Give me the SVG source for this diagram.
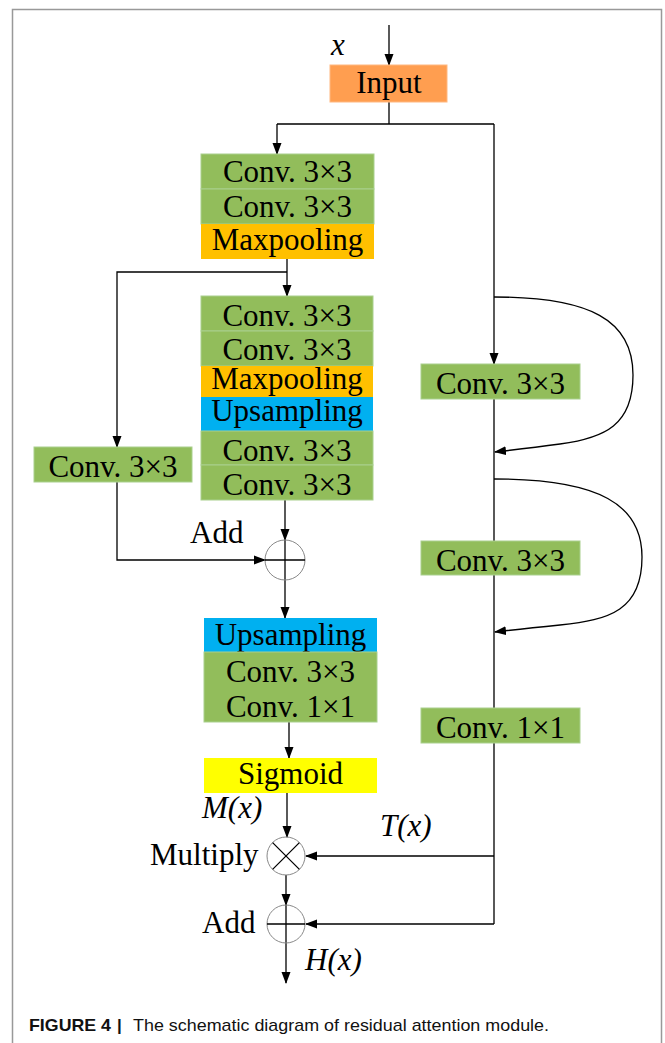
<svg xmlns="http://www.w3.org/2000/svg" width="665" height="1043" viewBox="0 0 665 1043">
<defs>
<marker id="ah" markerUnits="userSpaceOnUse" markerWidth="12" markerHeight="10" viewBox="0 0 12 10" refX="11" refY="5" orient="auto">
<path d="M0,0.5 L12,5 L0,9.5 Z" fill="#000"/>
</marker>
<style>
.t{font-family:"Liberation Serif","Times New Roman",serif;font-size:31px;fill:#000;text-anchor:middle}
.l{font-family:"Liberation Serif","Times New Roman",serif;font-size:31px;fill:#000}
.i{font-style:italic}
.g{fill:#92BD5B;stroke:#A9D08E;stroke-width:1}
.o{fill:#FFC000}
.b{fill:#00B0F0}
.y{fill:#FFFF00}
.in{fill:#FF9E50;stroke:#FFB880;stroke-width:1}
.c{fill:none;stroke:#000;stroke-width:1.3}
.a{fill:none;stroke:#000;stroke-width:1.3;marker-end:url(#ah)}
.ci{fill:none;stroke:#888;stroke-width:1}
.cap{font-family:"Liberation Sans",Arial,sans-serif;font-size:17px;fill:#111}
</style>
</defs>
<rect x="12.5" y="9.5" width="649" height="1045" fill="none" stroke="#999" stroke-width="1.5"/>

<g id="connectors">
<path class="a" d="M389,25 L389,65"/>
<path class="c" d="M389,102 L389,124 M277,124 L494,124"/>
<path class="a" d="M277,124 L277,154"/>
<path class="a" d="M494,124 L494,364"/>
<path class="a" d="M287,259 L287,296"/>
<path class="a" d="M287,272 L117,272 L117,447"/>
<path class="a" d="M117,482 L117,560 L265,560"/>
<path class="a" d="M285,500 L285,540"/>
<path class="a" d="M285,540 L285,618"/>
<path class="a" d="M289,722 L289,758"/>
<path class="a" d="M287,793 L287,837"/>
<path class="c" d="M494,399 L494,541 M494,575 L494,708 M494,743 L494,924"/>
<path class="a" d="M494,297 C590,297 633,320 633,375 C633,425 605,438 560,444 C530,448 512,450 495,452"/>
<path class="a" d="M494,479 C600,479 642,505 642,557 C642,610 610,620 560,625 C530,628 512,630 495,632"/>
<path class="a" d="M494,856 L306,856"/>
<path class="a" d="M494,924 L306,924"/>
<path class="a" d="M286,875 L286,905"/>
<path class="a" d="M286,905 L286,983"/>
</g>

<g id="input">
<rect class="in" x="330" y="65" width="117" height="37"/>
<text class="t" x="389" y="93">Input</text>
</g>
<text class="l i" x="331" y="55">x</text>

<g id="stack1">
<rect class="g" x="201" y="154" width="173" height="35"/>
<text class="t" x="287.5" y="182">Conv. 3×3</text>
<rect class="g" x="201" y="189" width="173" height="35"/>
<text class="t" x="287.5" y="217">Conv. 3×3</text>
<rect class="o" x="201" y="224" width="173" height="35"/>
<text class="t" x="287.5" y="250">Maxpooling</text>
</g>

<g id="stack2">
<rect class="g" x="201" y="296" width="172" height="35"/>
<text class="t" x="287" y="326">Conv. 3×3</text>
<rect class="g" x="201" y="331" width="172" height="35"/>
<text class="t" x="287" y="360">Conv. 3×3</text>
<rect class="o" x="201" y="366" width="172" height="31"/>
<text class="t" x="287" y="389">Maxpooling</text>
<rect class="b" x="201" y="397" width="172" height="34"/>
<text class="t" x="287" y="421">Upsampling</text>
<rect class="g" x="201" y="431" width="172" height="34"/>
<text class="t" x="287" y="461">Conv. 3×3</text>
<rect class="g" x="201" y="465" width="172" height="35"/>
<text class="t" x="287" y="495">Conv. 3×3</text>
</g>

<g id="leftconv">
<rect class="g" x="34" y="447" width="158" height="35"/>
<text class="t" x="113" y="477">Conv. 3×3</text>
</g>

<g id="add1">
<circle class="ci" cx="285" cy="560" r="20"/>
<path class="c" d="M265,560 L305,560"/>
<text class="l" x="190" y="543">Add</text>
</g>

<g id="stack3">
<rect class="b" x="204" y="618" width="173" height="34"/>
<text class="t" x="290.5" y="645">Upsampling</text>
<rect class="g" x="204" y="652" width="173" height="70"/>
<text class="t" x="290.5" y="682">Conv. 3×3</text>
<text class="t" x="290.5" y="717">Conv. 1×1</text>
</g>

<g id="sigmoid">
<rect class="y" x="204" y="758" width="173" height="35"/>
<text class="t" x="290.5" y="784">Sigmoid</text>
</g>
<text class="l i" x="202" y="818">M(x)</text>

<g id="rconv1">
<rect class="g" x="421" y="364" width="159" height="35"/>
<text class="t" x="500.5" y="394">Conv. 3×3</text>
</g>
<g id="rconv2">
<rect class="g" x="421" y="541" width="159" height="34"/>
<text class="t" x="500.5" y="571">Conv. 3×3</text>
</g>
<g id="rconv3">
<rect class="g" x="421" y="708" width="159" height="35"/>
<text class="t" x="500.5" y="738">Conv. 1×1</text>
</g>
<text class="l i" x="380" y="836">T(x)</text>

<g id="multiply">
<circle class="ci" cx="286" cy="856" r="19"/>
<path class="c" d="M272.6,842.6 L299.4,869.4 M299.4,842.6 L272.6,869.4"/>
<text class="l" x="150" y="865">Multiply</text>
</g>

<g id="add2">
<circle class="ci" cx="286" cy="924" r="19"/>
<path class="c" d="M267,924 L305,924"/>
<text class="l" x="202" y="933">Add</text>
</g>
<text class="l i" x="305" y="970">H(x)</text>

<g id="caption">
<text class="cap" x="29" y="1031" font-weight="bold" textLength="82" lengthAdjust="spacingAndGlyphs">FIGURE 4</text>
<text class="cap" x="117" y="1031" font-weight="bold">|</text>
<text class="cap" x="133" y="1031" textLength="416" lengthAdjust="spacingAndGlyphs">The schematic diagram of residual attention module.</text>
</g>
</svg>
